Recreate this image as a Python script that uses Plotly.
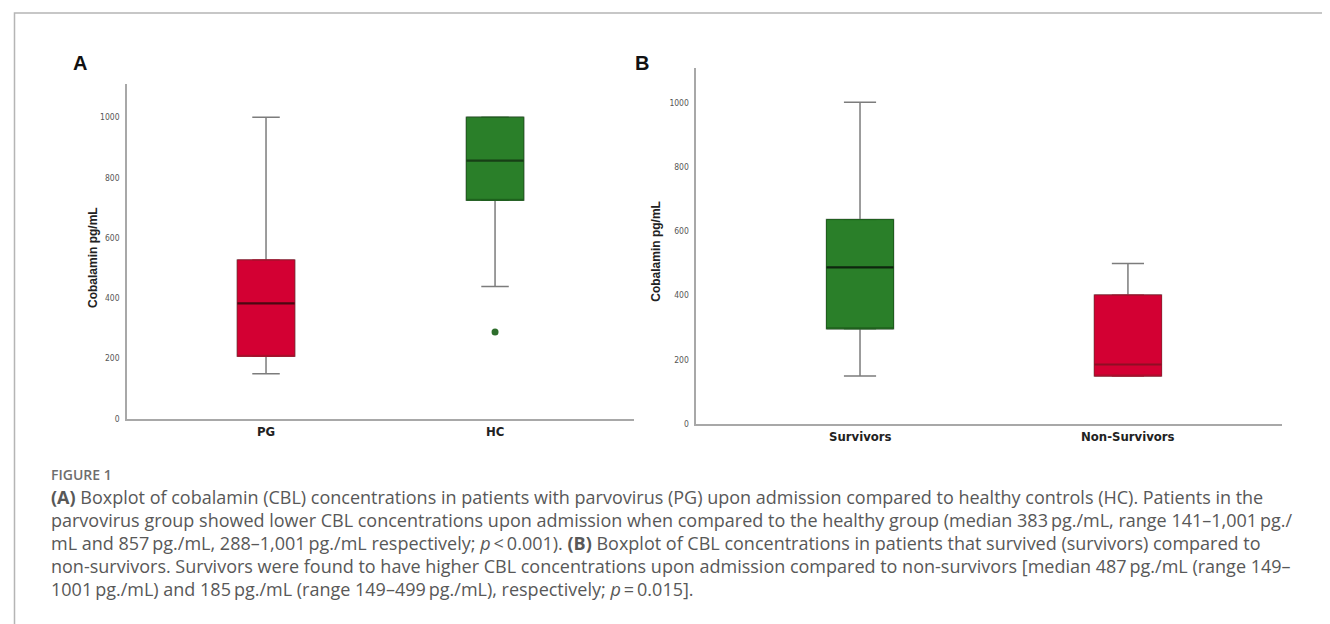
import plotly.graph_objects as go

# ---------------- data ----------------
groups_a = ["PG", "HC"]
a_lowerfence = [149, 439]
a_q1 = [207, 725]
a_median = [383, 857]
a_q3 = [527, 1001]
a_upperfence = [1001, 1001]
a_outlier_group = ["HC"]
a_outlier_value = [288]

groups_b = ["Survivors", "Non-Survivors"]
b_lowerfence = [149, 149]
b_q1 = [296, 149]
b_median = [487, 185]
b_q3 = [636, 401]
b_upperfence = [1001, 499]

y_ticks = [0, 200, 400, 600, 800, 1000]
y_title = "Cobalamin pg/mL"

caption_label = "FIGURE 1"
caption_lines = [
    "<b>(A)</b> Boxplot of cobalamin (CBL) concentrations in patients with parvovirus (PG) upon admission compared to healthy controls (HC). Patients in the",
    "parvovirus group showed lower CBL concentrations upon admission when compared to the healthy group (median 383\u2009pg./mL, range 141\u20131,001\u2009pg./",
    "mL and 857\u2009pg./mL, 288\u20131,001\u2009pg./mL respectively; <i>p</i>\u2009<\u20090.001). <b>(B)</b> Boxplot of CBL concentrations in patients that survived (survivors) compared to",
    "non-survivors. Survivors were found to have higher CBL concentrations upon admission compared to non-survivors [median 487\u2009pg./mL (range 149\u2013",
    "1001\u2009pg./mL) and 185\u2009pg./mL (range 149\u2013499\u2009pg./mL), respectively; <i>p</i>\u2009=\u20090.015].",
]

# ---------------- styling ----------------
W, H = 1330, 624
RED, RED_EDGE = "#D30033", "#A3122C"
GREEN, GREEN_EDGE = "#2A7F29", "#1E5E1D"
colors_a = [(RED, RED_EDGE, "#4A0812"), (GREEN, GREEN_EDGE, "#173F16")]
colors_b = [(GREEN, GREEN_EDGE, "#0E260E"), (RED, RED_EDGE, "#8E0E24")]
WHISKER = "#7C7C7C"
AXIS = "#A8A8A8"
NARROW = "DejaVu Sans Condensed, Liberation Sans Narrow, Arial Narrow, Liberation Sans, Arial"
TICKFONT = dict(family=NARROW, size=8.5, color="#555555")
CATFONT = dict(family=NARROW, size=13, color="#222222", weight="bold")
CAPFONT = "Open Sans, Lato, sans-serif"


def px_x(p):
    return p / W


def px_y(p):
    return 1 - p / H


fig = go.Figure()


def add_boxes(groups, lo, q1, med, q3, hi, cols, xa, ya):
    for i, g in enumerate(groups):
        fill, edge, mcol = cols[i]
        common = dict(x=[g], xaxis=xa, yaxis=ya, width=0.25, whiskerwidth=0.48,
                      showlegend=False, hoverinfo="skip", boxpoints=False)
        # whiskers (full box, gray)
        fig.add_trace(go.Box(q1=[q1[i]], median=[med[i]], q3=[q3[i]],
                             lowerfence=[lo[i]], upperfence=[hi[i]],
                             fillcolor="rgba(0,0,0,0)",
                             line=dict(color=WHISKER, width=1.5), **common))
        # filled box with thin darker outline
        fig.add_trace(go.Box(q1=[q1[i]], median=[q1[i]], q3=[q3[i]],
                             lowerfence=[q1[i]], upperfence=[q3[i]],
                             fillcolor=fill,
                             line=dict(color=edge, width=1), **common))
        # median line
        fig.add_trace(go.Box(q1=[med[i]], median=[med[i]], q3=[med[i]],
                             lowerfence=[med[i]], upperfence=[med[i]],
                             fillcolor="rgba(0,0,0,0)",
                             line=dict(color=mcol, width=2.2), **common))


add_boxes(groups_a, a_lowerfence, a_q1, a_median, a_q3, a_upperfence, colors_a, "x", "y")
add_boxes(groups_b, b_lowerfence, b_q1, b_median, b_q3, b_upperfence, colors_b, "x2", "y2")

fig.add_trace(go.Scatter(x=a_outlier_group, y=a_outlier_value, mode="markers", xaxis="x", yaxis="y",
                         marker=dict(color="#2E6E2C", size=7), showlegend=False, hoverinfo="skip"))

# axis domains (pixel-derived)
ax_a = dict(x0=119, x1=625.6, y0=76.7, y1=414)
ax_b = dict(x0=688.3, x1=1274, y0=60.7, y1=419.3)

xcommon = dict(type="category", showgrid=False, zeroline=False, showline=True, linecolor=AXIS,
               linewidth=1.5, ticks="", showticklabels=False, fixedrange=True)
ycommon = dict(showgrid=False, zeroline=False, showline=True, linecolor=AXIS, linewidth=1.5,
               ticks="", tickvals=y_ticks, tickfont=TICKFONT, ticklabelstandoff=4, fixedrange=True)

fig.update_layout(
    width=W, height=H,
    margin=dict(l=0, r=0, t=0, b=0),
    paper_bgcolor="white", plot_bgcolor="white",
    showlegend=False,
    xaxis=dict(domain=[px_x(ax_a["x0"]), px_x(ax_a["x1"])], anchor="y",
               categoryorder="array", categoryarray=groups_a, range=[-0.607, 1.605], **xcommon),
    yaxis=dict(domain=[px_y(ax_a["y1"]), px_y(ax_a["y0"])], anchor="x", range=[0, 1111], **ycommon),
    xaxis2=dict(domain=[px_x(ax_b["x0"]), px_x(ax_b["x1"])], anchor="y2",
                categoryorder="array", categoryarray=groups_b, range=[-0.611, 1.575], **xcommon),
    yaxis2=dict(domain=[px_y(ax_b["y1"]), px_y(ax_b["y0"])], anchor="x2", range=[0, 1107], **ycommon),
)

# frame
fig.add_shape(type="rect", xref="paper", yref="paper", x0=px_x(6.5), x1=px_x(1328), y0=px_y(640), y1=px_y(5),
              line=dict(color="#B5B5B5", width=1.5), fillcolor="rgba(0,0,0,0)", layer="below")

ann = []
# category labels under each axis
for groups, xr, ly in [(groups_a, "x", 427), (groups_b, "x2", 431.7)]:
    for g in groups:
        ann.append(dict(text=f"<b>{g}</b>", x=g, xref=xr, y=px_y(ly), yref="paper",
                        showarrow=False, xanchor="center", yanchor="middle", font=CATFONT))
# panel letters
for letter, (lx, ly) in [("A", (72, 55)), ("B", (634, 55))]:
    ann.append(dict(text=f"<b>{letter}</b>", x=px_x(lx), y=px_y(ly), xref="paper", yref="paper",
                    showarrow=False, xanchor="center", yanchor="middle",
                    font=dict(family="Liberation Sans, Arial", size=20, color="#111111")))
# y-axis titles
for (tx, ty) in [(85, 252), (647.7, 245)]:
    ann.append(dict(text=f"<b>{y_title}</b>", x=px_x(tx), y=px_y(ty), xref="paper", yref="paper",
                    showarrow=False, textangle=-90, xanchor="center", yanchor="middle",
                    font=dict(family="Liberation Sans, Arial", size=12, color="#222222")))
# caption
ann.append(dict(text=caption_label, x=px_x(41), y=px_y(470.7), xref="paper", yref="paper",
                showarrow=False, xanchor="left", yanchor="middle",
                font=dict(family=CAPFONT, size=14, color="#6E6E6E", weight=600)))
line_y = [492.7, 516, 539.3, 562.7, 586]
for t, ly in zip(caption_lines, line_y):
    ann.append(dict(text=t, x=px_x(41), y=px_y(ly), xref="paper", yref="paper",
                    showarrow=False, xanchor="left", yanchor="middle", align="left",
                    font=dict(family=CAPFONT, size=18, color="#585858")))
fig.update_layout(annotations=ann)

fig.write_html("out.html")
